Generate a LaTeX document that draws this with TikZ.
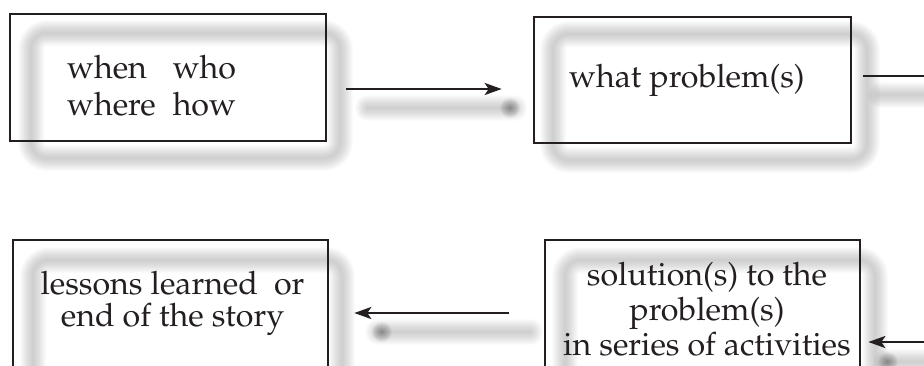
\documentclass[tikz,border=0pt]{standalone}
\usepackage[T1]{fontenc}
\usepackage{mathpazo}
\usetikzlibrary{arrows.meta,calc}
\definecolor{ink}{HTML}{231F20}
\newcommand\softline[2]{%
  \foreach \w in {2,4,...,26}{\draw[black,opacity=0.016,line width=\w pt,line cap=round,#1] #2;}}
\newcommand\softdot[1]{%
  \foreach \r in {1,2,...,10}{\fill[black,opacity=0.04] #1 circle (\r pt);}}
\tikzset{
  frame/.style={draw=ink,line width=2.6pt,inner sep=0pt},
  txt/.style={inner sep=0pt,text=ink,font=\fontsize{32.2}{36}\selectfont},
  conn/.style={draw=ink,line width=2.6pt},
  arr/.style={conn,-{Stealth[length=17pt,width=12pt,inset=4pt]}}
}
\begin{document}
\begin{tikzpicture}[x=1pt,y=-1pt]
\useasboundingbox (0,0) rectangle (924,365);
\clip (0,0) rectangle (924,365);
% soft shadows
\softline{rounded corners=16pt}{(31,33) rectangle (340,158)}
\softline{rounded corners=16pt}{(553,34) rectangle (867,160)}
\softline{rounded corners=16pt}{(33,260) rectangle (342,410)}
\softline{rounded corners=16pt}{(565,260) rectangle (875,410)}
\softline{}{(368,108) -- (514,108)}
\softdot{(510,108)}
\softline{}{(880,95) -- (935,95)}
\softline{}{(378,332) -- (530,332)}
\softdot{(382,332)}
\softline{}{(886,362) -- (935,362)}
\softdot{(888,362)}
% boxes
\node[frame,minimum width=316pt,minimum height=127pt] (box1) at (168,77.5) {};
\node[frame,minimum width=317pt,minimum height=126pt] (box2) at (692.5,80) {};
\node[frame,minimum width=315pt,minimum height=128pt] (box3) at (170.5,304) {};
\node[frame,minimum width=315pt,minimum height=128pt] (box4) at (702.5,304) {};
% texts
\node[txt,anchor=base west] (t1) at (67,78) {\fontsize{32.2}{37}\selectfont\begin{tabular}[t]{@{}l@{\hspace{17pt}}l@{}}when & who\\ where & how\end{tabular}};
\node[txt,anchor=base west] (t2) at (569,87) {what problem(s)};
\node[txt,anchor=base] (t3) at (172.5,294) {\fontsize{32.2}{32}\selectfont\begin{tabular}[t]{@{}c@{}}lessons learned\ \ or\\ end of the story\end{tabular}};
\node[txt,anchor=base] (t4) at (707,285) {\fontsize{32.2}{35}\selectfont\begin{tabular}[t]{@{}c@{}}solution(s) to the\\ problem(s)\\ in series of activities\end{tabular}};
% connectors
\coordinate (out2) at (930,76);
\coordinate (in4) at (930,342);
\draw[arr,shorten <=19pt,shorten >=31pt] ($(box1.east)+(0,11.5)$) -- ($(box2.west)+(0,9)$);
\draw[conn,shorten <=11pt] ($(box2.east)+(0,-4)$) -- (out2);
\draw[arr,shorten <=35pt,shorten >=25pt] ($(box4.west)+(0,9)$) -- ($(box3.east)+(0,9)$);
\draw[arr,shorten >=7pt] (in4) -- (box4.east |- in4);
\end{tikzpicture}
\end{document}
